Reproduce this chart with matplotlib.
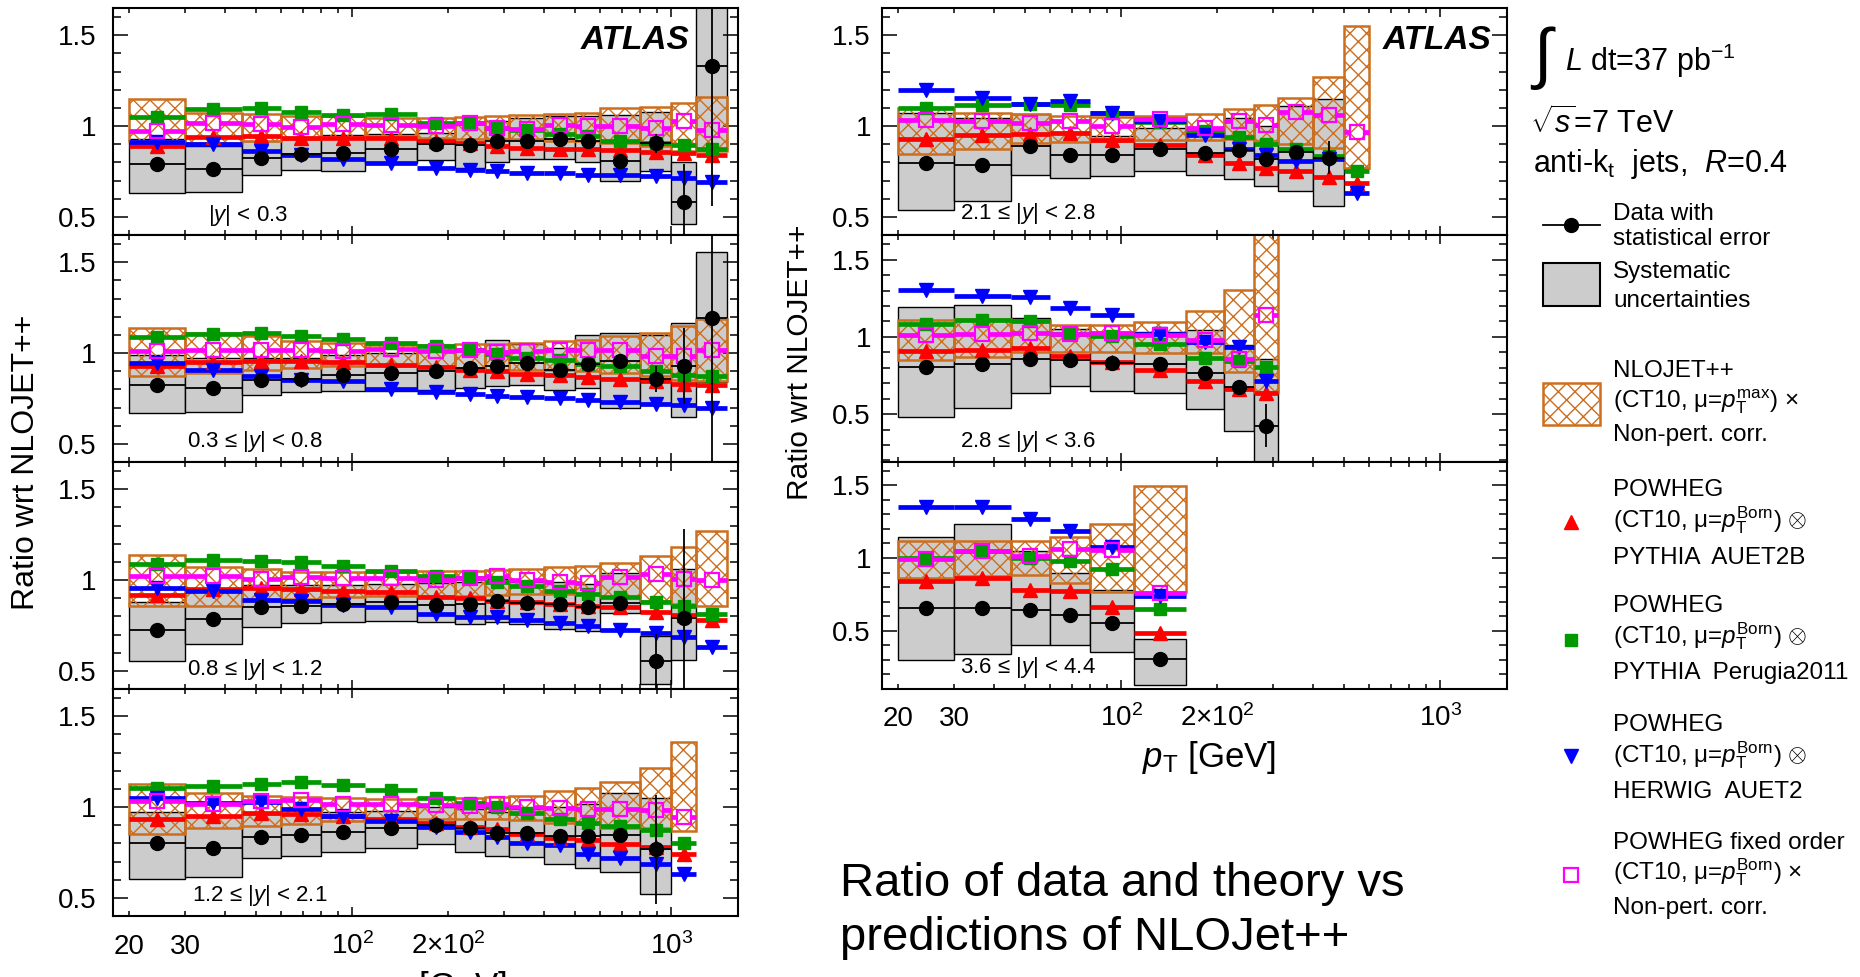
import numpy as np
import matplotlib
matplotlib.use("Agg")
import matplotlib.pyplot as plt
from matplotlib.patches import Rectangle
from matplotlib.ticker import FixedLocator, NullFormatter, FuncFormatter

plt.rcParams.update({
    "font.family": ["Liberation Sans", "DejaVu Sans"],
    "mathtext.fontset": "custom",
    "mathtext.rm": "Liberation Sans",
    "mathtext.it": "Liberation Sans:italic",
    "mathtext.bf": "Liberation Sans:bold",
    "hatch.linewidth": 1.0,
})

# ---------------------------------------------------------------- data
pt_edges = [20, 30, 45, 60, 80, 110, 160, 210, 260, 310, 400, 500, 600, 800, 1000, 1200, 1500]

rap_labels = [r"|$y$| < 0.3", r"0.3 ≤ |$y$| < 0.8", r"0.8 ≤ |$y$| < 1.2", r"1.2 ≤ |$y$| < 2.1",
              r"2.1 ≤ |$y$| < 2.8", r"2.8 ≤ |$y$| < 3.6", r"3.6 ≤ |$y$| < 4.4"]

# |y| < 0.3
y0_data = [0.789, 0.761, 0.822, 0.847, 0.853, 0.871, 0.903, 0.895, 0.915, 0.915, 0.930, 0.919, 0.810, 0.904, 0.583, 1.331]
y0_stat = [0.004, 0.004, 0.004, 0.004, 0.004, 0.004, 0.005, 0.005, 0.006, 0.008, 0.010, 0.015, 0.025, 0.05, 0.21, 0.77]
y0_syslo = [0.629, 0.636, 0.730, 0.757, 0.752, 0.798, 0.811, 0.770, 0.801, 0.820, 0.820, 0.803, 0.697, 0.755, 0.461, 0.870]
y0_syshi = [0.93, 0.89, 0.92, 0.94, 0.95, 0.955, 0.96, 1.02, 1.03, 1.045, 1.055, 1.055, 1.06, 1.08, 0.80, 2.0]
y0_nlolo = [0.917, 0.908, 0.917, 0.926, 0.936, 0.945, 0.936, 0.926, 0.926, 0.926, 0.917, 0.917, 0.908, 0.89, 0.862, 0.862]
y0_nlohi = [1.151, 1.074, 1.064, 1.055, 1.055, 1.046, 1.046, 1.051, 1.055, 1.059, 1.064, 1.074, 1.10, 1.107, 1.125, 1.16]
y0_pyth = [0.89, 0.94, 0.945, 0.936, 0.936, 0.936, 0.917, 0.908, 0.89, 0.88, 0.875, 0.871, 0.866, 0.857, 0.853, 0.838]
y0_peru = [1.051, 1.096, 1.101, 1.079, 1.061, 1.064, 1.018, 1.015, 0.991, 0.976, 0.954, 0.945, 0.917, 0.908, 0.895, 0.871]
y0_herw = [0.912, 0.899, 0.862, 0.838, 0.82, 0.798, 0.770, 0.757, 0.752, 0.743, 0.739, 0.733, 0.730, 0.724, 0.715, 0.691]
y0_fixo = [0.972, 1.015, 1.009, 0.996, 1.009, 1.004, 1.0, 1.018, 0.991, 0.982, 1.004, 1.0, 1.0, 0.991, 1.028, 0.978]

# 0.3 <= |y| < 0.8
y1_data = [0.825, 0.807, 0.853, 0.858, 0.880, 0.890, 0.899, 0.917, 0.930, 0.945, 0.904, 0.939, 0.954, 0.857, 0.930, 1.193]
y1_stat = [0.004, 0.004, 0.004, 0.004, 0.004, 0.004, 0.005, 0.005, 0.006, 0.008, 0.010, 0.015, 0.03, 0.07, 0.21, 0.85]
y1_syslo = [0.669, 0.673, 0.770, 0.783, 0.789, 0.789, 0.798, 0.807, 0.820, 0.825, 0.794, 0.807, 0.697, 0.724, 0.65, 0.84]
y1_syshi = [0.99, 0.97, 0.97, 0.97, 0.99, 1.0, 1.01, 1.02, 1.07, 1.05, 1.03, 1.10, 1.11, 1.10, 1.165, 1.555]
y1_nlolo = [0.871, 0.89, 0.908, 0.917, 0.926, 0.926, 0.926, 0.917, 0.908, 0.904, 0.904, 0.899, 0.89, 0.871, 0.853, 0.844]
y1_nlohi = [1.138, 1.11, 1.092, 1.064, 1.055, 1.046, 1.046, 1.051, 1.051, 1.055, 1.064, 1.074, 1.096, 1.11, 1.147, 1.188]
y1_pyth = [0.93, 0.949, 0.954, 0.954, 0.95, 0.936, 0.921, 0.908, 0.899, 0.886, 0.877, 0.866, 0.858, 0.844, 0.831, 0.825]
y1_peru = [1.088, 1.107, 1.11, 1.092, 1.079, 1.055, 1.04, 1.018, 0.996, 0.972, 0.96, 0.941, 0.926, 0.899, 0.88, 0.871]
y1_herw = [0.945, 0.908, 0.871, 0.853, 0.844, 0.801, 0.785, 0.774, 0.761, 0.757, 0.752, 0.739, 0.733, 0.721, 0.715, 0.697]
y1_fixo = [1.009, 1.018, 1.018, 1.018, 1.009, 1.024, 1.009, 1.018, 1.006, 1.009, 1.018, 1.018, 1.018, 0.982, 0.985, 1.018]

# 0.8 <= |y| < 1.2
y2_data = [0.726, 0.785, 0.849, 0.858, 0.868, 0.877, 0.862, 0.868, 0.882, 0.871, 0.868, 0.853, 0.871, 0.555, 0.790]
y2_stat = [0.004, 0.004, 0.004, 0.004, 0.004, 0.004, 0.005, 0.005, 0.006, 0.008, 0.010, 0.015, 0.03, 0.15, 0.49]
y2_syslo = [0.555, 0.647, 0.744, 0.761, 0.767, 0.772, 0.767, 0.757, 0.767, 0.757, 0.730, 0.717, 0.82, 0.426, 0.559]
y2_syshi = [0.88, 0.94, 0.975, 0.97, 0.97, 0.98, 0.985, 0.99, 1.005, 0.99, 0.99, 0.98, 1.04, 0.69, 1.06]
y2_nlolo = [0.858, 0.858, 0.886, 0.895, 0.904, 0.913, 0.913, 0.913, 0.917, 0.923, 0.923, 0.923, 0.904, 0.886, 0.868, 0.858]
y2_nlohi = [1.138, 1.07, 1.06, 1.042, 1.042, 1.042, 1.048, 1.051, 1.055, 1.06, 1.07, 1.079, 1.092, 1.134, 1.184, 1.268]
y2_pyth = [0.919, 0.95, 0.954, 0.95, 0.941, 0.932, 0.908, 0.901, 0.886, 0.877, 0.868, 0.855, 0.849, 0.825, 0.809, 0.781]
y2_peru = [1.088, 1.112, 1.103, 1.101, 1.079, 1.051, 1.024, 1.011, 0.987, 0.969, 0.938, 0.923, 0.908, 0.877, 0.855, 0.813]
y2_herw = [0.954, 0.941, 0.89, 0.886, 0.864, 0.849, 0.813, 0.794, 0.798, 0.779, 0.761, 0.748, 0.726, 0.706, 0.688, 0.634]
y2_fixo = [1.02, 1.024, 1.006, 1.015, 1.011, 1.011, 1.0, 1.011, 1.024, 1.0, 0.987, 0.982, 1.015, 1.033, 1.006, 1.0]

# 1.2 <= |y| < 2.1
y3_data = [0.803, 0.776, 0.835, 0.846, 0.862, 0.882, 0.901, 0.882, 0.858, 0.858, 0.840, 0.840, 0.846, 0.767]
y3_stat = [0.004, 0.004, 0.004, 0.004, 0.004, 0.004, 0.005, 0.005, 0.006, 0.008, 0.010, 0.015, 0.04, 0.30]
y3_syslo = [0.601, 0.616, 0.717, 0.733, 0.754, 0.776, 0.794, 0.754, 0.733, 0.726, 0.688, 0.665, 0.642, 0.522]
y3_syshi = [0.97, 0.95, 0.96, 0.96, 0.97, 0.98, 1.0, 0.99, 0.97, 0.99, 1.0, 1.015, 1.08, 1.05]
y3_nlolo = [0.849, 0.886, 0.895, 0.908, 0.923, 0.932, 0.936, 0.932, 0.932, 0.926, 0.914, 0.904, 0.886, 0.886, 0.868]
y3_nlohi = [1.125, 1.079, 1.06, 1.055, 1.051, 1.042, 1.051, 1.051, 1.055, 1.06, 1.088, 1.107, 1.14, 1.217, 1.36]
y3_pyth = [0.936, 0.95, 0.965, 0.96, 0.95, 0.936, 0.914, 0.89, 0.877, 0.853, 0.831, 0.816, 0.798, 0.781, 0.743]
y3_peru = [1.103, 1.116, 1.125, 1.14, 1.121, 1.094, 1.048, 1.024, 1.0, 0.969, 0.932, 0.914, 0.895, 0.871, 0.80]
y3_herw = [1.051, 1.024, 1.028, 0.987, 0.95, 0.923, 0.89, 0.864, 0.835, 0.803, 0.79, 0.743, 0.72, 0.684, 0.629]
y3_fixo = [1.033, 1.015, 1.033, 1.037, 1.015, 1.015, 1.011, 1.005, 1.015, 1.0, 0.993, 0.987, 0.987, 0.982, 0.945]

# 2.1 <= |y| < 2.8
y4_data = [0.794, 0.785, 0.89, 0.84, 0.84, 0.871, 0.853, 0.868, 0.816, 0.858, 0.825]
y4_stat = [0.004, 0.004, 0.005, 0.005, 0.005, 0.005, 0.006, 0.008, 0.012, 0.03, 0.09]
y4_syslo = [0.54, 0.586, 0.73, 0.715, 0.724, 0.755, 0.73, 0.706, 0.669, 0.645, 0.559]
y4_syshi = [1.074, 1.046, 1.064, 0.967, 0.945, 0.991, 0.99, 1.046, 1.0, 1.11, 1.147]
y4_nlolo = [0.844, 0.871, 0.904, 0.913, 0.92, 0.923, 0.923, 0.926, 0.917, 0.90, 0.88, 0.77]
y4_nlohi = [1.101, 1.074, 1.064, 1.055, 1.051, 1.058, 1.064, 1.092, 1.114, 1.156, 1.272, 1.551]
y4_pyth = [0.93, 0.949, 0.954, 0.96, 0.923, 0.893, 0.838, 0.794, 0.77, 0.752, 0.72, 0.684]
y4_peru = [1.101, 1.116, 1.12, 1.114, 1.07, 1.022, 0.972, 0.939, 0.903, 0.875, 0.835, 0.752]
y4_herw = [1.199, 1.156, 1.123, 1.138, 1.074, 1.028, 0.949, 0.871, 0.838, 0.81, 0.816, 0.629]
y4_fixo = [1.033, 1.028, 1.018, 1.028, 1.0, 1.037, 0.991, 1.028, 1.004, 1.077, 1.059, 0.967]

# 2.8 <= |y| < 3.6
y5_data = [0.807, 0.822, 0.856, 0.85, 0.833, 0.822, 0.764, 0.674, 0.425]
y5_stat = [0.005, 0.005, 0.006, 0.007, 0.008, 0.010, 0.012, 0.02, 0.14]
y5_syslo = [0.479, 0.539, 0.635, 0.682, 0.652, 0.635, 0.534, 0.388, 0.15]
y5_syshi = [1.193, 1.204, 1.124, 1.054, 1.03, 1.03, 1.047, 0.95, 0.86]
y5_nlolo = [0.85, 0.871, 0.903, 0.903, 0.905, 0.893, 0.893, 0.775, 0.646]
y5_nlohi = [1.112, 1.118, 1.107, 1.075, 1.075, 1.097, 1.165, 1.305, 2.0]
y5_pyth = [0.91, 0.918, 0.931, 0.876, 0.835, 0.785, 0.717, 0.661, 0.635]
y5_peru = [1.082, 1.107, 1.103, 1.021, 1.004, 0.951, 0.861, 0.845, 0.807]
y5_herw = [1.305, 1.268, 1.258, 1.189, 1.139, 1.021, 0.964, 0.936, 0.717]
y5_fixo = [1.015, 1.021, 1.026, 1.017, 1.026, 1.011, 0.979, 0.854, 1.139]

# 3.6 <= |y| < 4.4
y6_data = [0.656, 0.656, 0.64, 0.61, 0.557, 0.305]
y6_stat = [0.005, 0.006, 0.007, 0.008, 0.012, 0.02]
y6_syslo = [0.296, 0.342, 0.399, 0.399, 0.353, 0.128]
y6_syshi = [1.142, 1.234, 1.05, 0.897, 0.782, 0.445]
y6_nlolo = [0.862, 0.874, 0.881, 0.828, 0.766, 0.766]
y6_nlohi = [1.119, 1.115, 1.115, 1.142, 1.234, 1.493]
y6_pyth = [0.839, 0.862, 0.782, 0.775, 0.663, 0.484]
y6_peru = [1.0, 1.05, 1.0, 0.977, 0.927, 0.651]
y6_herw = [1.351, 1.351, 1.271, 1.183, 1.073, 0.736]
y6_fixo = [0.993, 1.05, 1.011, 1.062, 1.057, 0.759]

x_major = [100, 1000]
x_minor = [20, 30, 40, 50, 60, 70, 80, 90, 200, 300, 400, 500, 600, 700, 800, 900]
major_text = {100: r"$10^{2}$", 1000: r"$10^{3}$"}
minor_text = {20: "20", 30: "30", 200: r"$2{\times}10^{2}$"}

# ---------------------------------------------------------------- style
GREY = "#cccccc"
ORANGE = "#cc6e1e"
RED = "#ff0000"
GREEN = "#009a00"
BLUE = "#0000ff"
MAGENTA = "#ff00ff"

W, H, DPI = 1860, 977, 100
XMIN, XMAX = 17.8, 1620.0
COL_W = 625.0
PX_PER_DEC = COL_W / np.log10(XMAX / XMIN)
GAP = 10 ** (7.0 / PX_PER_DEC)   # half marker width, as a factor on the log axis
TICK_FS = 20

fig = plt.figure(figsize=(W / DPI, H / DPI), dpi=DPI)

# pixel-coordinate overlay for the free-standing text and the legend
ov = fig.add_axes([0, 0, 1, 1])
ov.set_xlim(0, W)
ov.set_ylim(H, 0)
ov.axis("off")


def panel_axes(x0, y0, y1):
    return fig.add_axes([x0 / W, 1 - y1 / H, COL_W / W, (y1 - y0) / H])


def draw_panel(ax, data, stat, syslo, syshi, nlolo, nlohi, pyth, peru, herw, fixo):
    e = np.array(pt_edges, float)
    nd, nt = len(data), len(pyth)
    lo_d, hi_d = e[:nd], e[1:nd + 1]
    lo_t, hi_t = e[:nt], e[1:nt + 1]
    c_d, c_t = np.sqrt(lo_d * hi_d), np.sqrt(lo_t * hi_t)
    data, stat = np.array(data), np.array(stat)

    for a, b, lo, hi in zip(lo_d, hi_d, syslo, syshi):
        ax.add_patch(Rectangle((a, lo), b - a, hi - lo, facecolor=GREY,
                               edgecolor="black", lw=1.0, zorder=1))
    for a, b, lo, hi in zip(lo_t, hi_t, nlolo, nlohi):
        ax.add_patch(Rectangle((a, lo), b - a, hi - lo, fill=False, hatch="xx",
                               edgecolor=ORANGE, lw=1.8, zorder=2))

    for vals, col, mk, ms in [(pyth, RED, "^", 10), (peru, GREEN, "s", 8.5), (herw, BLUE, "v", 10)]:
        ax.hlines(vals, lo_t, hi_t, colors=col, lw=3.4, zorder=3)
        ax.plot(c_t, vals, ls="none", marker=mk, ms=ms, color=col, mec=col, zorder=4)

    ax.hlines(fixo, lo_t, c_t / GAP, colors=MAGENTA, lw=3.4, zorder=3)
    ax.hlines(fixo, c_t * GAP, hi_t, colors=MAGENTA, lw=3.4, zorder=3)
    ax.plot(c_t, fixo, ls="none", marker="s", ms=9.5, mfc="none", mec=MAGENTA, mew=1.6, zorder=4)

    ax.hlines(data, lo_d, hi_d, colors="black", lw=1.3, zorder=5)
    ax.vlines(c_d, data - stat, data + stat, colors="black", lw=1.3, zorder=5)
    ax.plot(c_d, data, ls="none", marker="o", ms=10, color="black", zorder=6)


def style_axes(ax, ylim, xlabels, ypad):
    ax.set_xscale("log")
    ax.set_xlim(XMIN, XMAX)
    ax.set_ylim(*ylim)
    ax.xaxis.set_major_locator(FixedLocator(x_major))
    ax.xaxis.set_minor_locator(FixedLocator(x_minor))
    ax.yaxis.set_major_locator(FixedLocator([0.5, 1.0, 1.5]))
    ax.yaxis.set_minor_locator(FixedLocator(np.round(np.arange(0.1, 1.71, 0.1), 2)))
    ax.yaxis.set_major_formatter(FuncFormatter(lambda v, p: f"{v:g}"))
    ax.yaxis.set_minor_formatter(NullFormatter())
    if xlabels:
        ax.xaxis.set_major_formatter(FuncFormatter(lambda v, p: major_text.get(int(round(v)), "")))
        ax.xaxis.set_minor_formatter(FuncFormatter(lambda v, p: minor_text.get(int(round(v)), "")))
    else:
        ax.xaxis.set_major_formatter(NullFormatter())
        ax.xaxis.set_minor_formatter(NullFormatter())
    ax.tick_params(which="both", direction="in", top=True, right=True, width=1.1, colors="black")
    ax.tick_params(axis="y", which="major", length=10.5, labelsize=TICK_FS, pad=ypad)
    ax.tick_params(axis="y", which="minor", length=5.5)
    ax.tick_params(axis="x", which="major", length=6.5, labelsize=TICK_FS, pad=27)
    ax.tick_params(axis="x", which="minor", length=3.5, labelsize=TICK_FS, pad=27)
    for lab in ax.get_xticklabels(which="both"):
        lab.set_verticalalignment("baseline")
    for s in ax.spines.values():
        s.set_linewidth(1.5)


def rap_text(ax, x_px, y_from_bottom, text, height):
    ax.text(x_px / COL_W, y_from_bottom / height, text, transform=ax.transAxes,
            fontsize=16, ha="left", va="center")


LEFT_X, RIGHT_X = 113, 882
left_rows = [(8, 235), (235, 462), (462, 689), (689, 916)]
right_rows = [(8, 235), (235, 462), (462, 689)]

left_sets = [
    (y0_data, y0_stat, y0_syslo, y0_syshi, y0_nlolo, y0_nlohi, y0_pyth, y0_peru, y0_herw, y0_fixo),
    (y1_data, y1_stat, y1_syslo, y1_syshi, y1_nlolo, y1_nlohi, y1_pyth, y1_peru, y1_herw, y1_fixo),
    (y2_data, y2_stat, y2_syslo, y2_syshi, y2_nlolo, y2_nlohi, y2_pyth, y2_peru, y2_herw, y2_fixo),
    (y3_data, y3_stat, y3_syslo, y3_syshi, y3_nlolo, y3_nlohi, y3_pyth, y3_peru, y3_herw, y3_fixo),
]
right_sets = [
    (y4_data, y4_stat, y4_syslo, y4_syshi, y4_nlolo, y4_nlohi, y4_pyth, y4_peru, y4_herw, y4_fixo),
    (y5_data, y5_stat, y5_syslo, y5_syshi, y5_nlolo, y5_nlohi, y5_pyth, y5_peru, y5_herw, y5_fixo),
    (y6_data, y6_stat, y6_syslo, y6_syshi, y6_nlolo, y6_nlohi, y6_pyth, y6_peru, y6_herw, y6_fixo),
]
right_ylims = [(0.40, 1.65), (0.19, 1.66), (0.10, 1.66)]
left_label_x = [95, 74, 74, 79]

for i, ((y0, y1), vals) in enumerate(zip(left_rows, left_sets)):
    ax = panel_axes(LEFT_X, y0, y1)
    draw_panel(ax, *vals)
    style_axes(ax, (0.40, 1.65), i == len(left_rows) - 1, 12)
    rap_text(ax, left_label_x[i], 20, rap_labels[i], y1 - y0)
    if i == 0:
        ax.text(0.923, 0.855, "ATLAS", transform=ax.transAxes, fontsize=24,
                fontweight="bold", style="italic", ha="right", va="center")

for i, ((y0, y1), vals) in enumerate(zip(right_rows, right_sets)):
    ax = panel_axes(RIGHT_X, y0, y1)
    draw_panel(ax, *vals)
    style_axes(ax, right_ylims[i], i == len(right_rows) - 1, 8)
    rap_text(ax, 78, 21, rap_labels[4 + i], y1 - y0)
    if i == 0:
        ax.text(0.975, 0.855, "ATLAS", transform=ax.transAxes, fontsize=24,
                fontweight="bold", style="italic", ha="right", va="center")

# axis titles
ov.text(26, 462, "Ratio wrt NLOJET++", rotation=90, fontsize=23, ha="center", va="center")
ov.text(800, 362, "Ratio wrt NLOJET++", rotation=90, fontsize=21.5, ha="center", va="center")
ov.text(1209, 757, r"$p_{\mathrm{T}}$ [GeV]", fontsize=25, ha="center", va="center")
ov.text(440, 988, r"$p_{\mathrm{T}}$ [GeV]", fontsize=25, ha="center", va="center")

# caption under the right column
ov.text(840, 896, "Ratio of data and theory vs", fontsize=34, ha="left", va="baseline")
ov.text(840, 950, "predictions of NLOJet++", fontsize=34, ha="left", va="baseline")

# ---------------------------------------------------------------- legend
ov.text(1542, 58, "∫", fontsize=48, ha="center", va="center")
ov.text(1565, 71, r"$L$ dt=37 pb$^{-1}$", fontsize=22, ha="left", va="baseline")
ov.text(1530, 133, r"$\sqrt{s}$=7 TeV", fontsize=22, ha="left", va="baseline")
ov.text(1533, 172, r"anti-k$_{\mathrm{t}}$  jets,  $R$=0.4", fontsize=22, ha="left", va="baseline")

LX0, LX1, LXC, TX = 1543, 1600, 1571, 1613
ov.plot([LX0, LX1], [225, 225], color="black", lw=1.3)
ov.plot([LXC], [225], marker="o", ms=10, color="black")
ov.add_patch(Rectangle((LX0, 263), LX1 - LX0, 43, facecolor=GREY, edgecolor="black", lw=1.5))
ov.add_patch(Rectangle((LX0, 383), LX1 - LX0, 42, fill=False, hatch="xx", edgecolor=ORANGE, lw=1.8))
ov.plot([LXC], [522], marker="^", ms=10, color=RED, ls="none")
ov.plot([LXC], [640], marker="s", ms=8.5, color=GREEN, ls="none")
ov.plot([LXC], [756], marker="v", ms=10, color=BLUE, ls="none")
ov.plot([LXC], [875], marker="s", ms=9.5, mfc="none", mec=MAGENTA, mew=1.6, ls="none")

born = r"(CT10, μ=$p_{\mathrm{T}}^{\mathrm{Born}}$)"
legend_lines = [
    (220, "Data with"), (245, "statistical error"),
    (278, "Systematic"), (307, "uncertainties"),
    (377, "NLOJET++"), (407, r"(CT10, μ=$p_{\mathrm{T}}^{\mathrm{max}}$) $\times$"), (441, "Non-pert. corr."),
    (496, "POWHEG"), (527, born + r" $\otimes$"), (564, "PYTHIA  AUET2B"),
    (612, "POWHEG"), (643, born + r" $\otimes$"), (679, "PYTHIA  Perugia2011"),
    (731, "POWHEG"), (762, born + r" $\otimes$"), (798, "HERWIG  AUET2"),
    (849, "POWHEG fixed order"), (879, born + r" $\times$"), (914, "Non-pert. corr."),
]
for yb, txt in legend_lines:
    ov.text(TX, yb, txt, fontsize=17.5, ha="left", va="baseline")

fig.savefig("out.png", dpi=DPI)
